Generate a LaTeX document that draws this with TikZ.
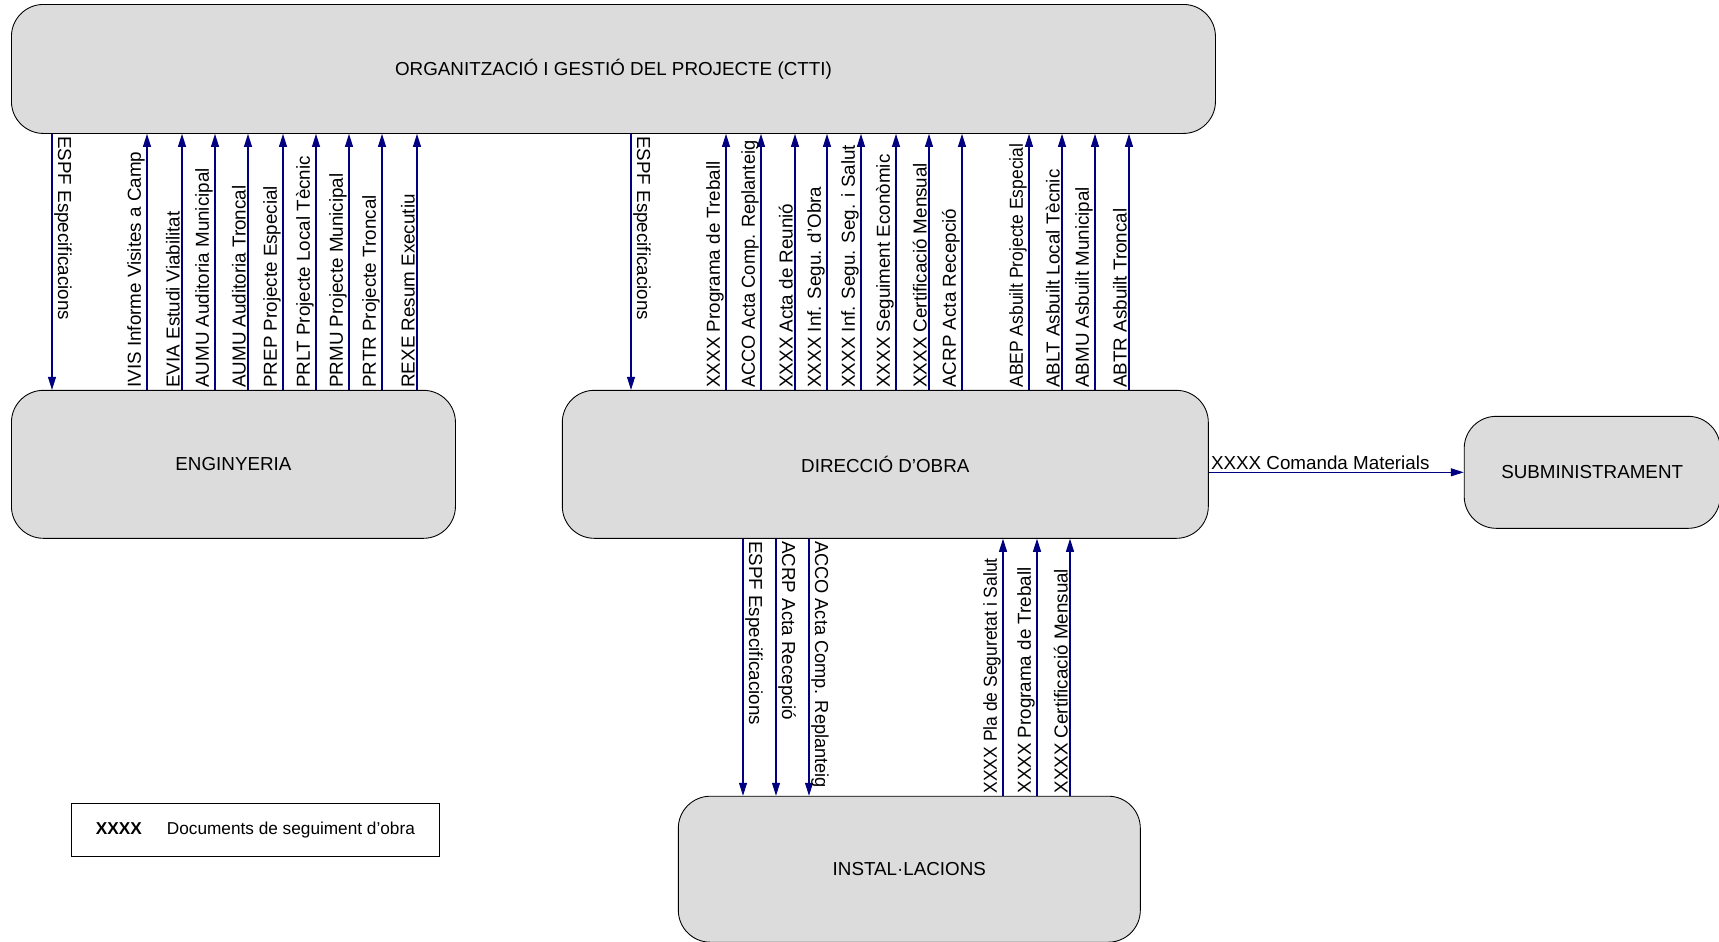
\documentclass[tikz,border=0pt]{standalone}
\usepackage{fontspec}
\setmainfont{Liberation Sans}
\usetikzlibrary{arrows.meta,positioning}
\definecolor{boxgray}{RGB}{220,220,220}
\definecolor{flowblue}{RGB}{0,0,128}
\tikzset{%
  >={Triangle[width=1.6mm,length=2.6mm]},
  % styles of the boxes
        base/.style = {rectangle, rounded corners=0.64cm, draw=black,
                       fill=boxgray, line width=0.5pt, text centered,
                       font=\fontsize{10.7}{13}\selectfont},
      office/.style = {base, minimum height=2.96cm},
      legend/.style = {rectangle, draw=black, line width=0.5pt,
                       minimum width=7.36cm, minimum height=1.06cm,
                       font=\fontsize{9.8}{12}\selectfont},
  % styles of the document flows and their labels
        flow/.style = {->, draw=flowblue, line width=0.6pt},
       updoc/.style = {pos=0, rotate=90, anchor=south west, inner sep=1pt,
                       font=\fontsize{10.7}{13}\selectfont},
     downdoc/.style = {pos=0, rotate=-90, anchor=south west, inner sep=1pt,
                       font=\fontsize{10.7}{13}\selectfont},
}
\begin{document}
\begin{tikzpicture}
  \useasboundingbox (0,0) rectangle (34.38,-18.82);

  % Boxes (position, size)
  \node (ctti) [base, minimum width=24.08cm, minimum height=2.58cm,
                anchor=north west] at (0.22,-0.08)
        {ORGANITZACIÓ I GESTIÓ DEL PROJECTE (CTTI)};
  \node (eng)  [office, minimum width=8.88cm,
                below=5.12cm of ctti.south west, anchor=north west] {ENGINYERIA};
  \node (dob)  [office, minimum width=12.92cm, right=2.12cm of eng] {DIRECCIÓ D’OBRA};
  \node (sub)  [base, minimum width=5.12cm, minimum height=2.24cm,
                right=5.10cm of dob, yshift=-0.16cm] {SUBMINISTRAMENT};
  \node (inst) [base, minimum width=9.24cm, minimum height=2.92cm,
                below=5.14cm of dob.south west, anchor=north west,
                xshift=2.32cm] {INSTAL·LACIONS};
  \node (key)  [legend, below=5.28cm of eng.south west, anchor=north west,
                xshift=1.2cm] {\textbf{XXXX}\hspace{0.5cm}Documents de seguiment d’obra};

  % Documents between ENGINYERIA and the top box
  \draw[flow] (ctti.south -| 1.04,0) -- node[downdoc] {ESPF Especificacions} (eng.north -| 1.04,0);
  \draw[flow] (eng.north -| 2.94,0) -- node[updoc] {IVIS Informe Visites a Camp} (ctti.south -| 2.94,0);
  \draw[flow] (eng.north -| 3.64,0) -- node[updoc] {EVIA Estudi Viabilitat} (ctti.south -| 3.64,0);
  \draw[flow] (eng.north -| 4.30,0) -- node[updoc] {AUMU Auditoria Municipal} (ctti.south -| 4.30,0);
  \draw[flow] (eng.north -| 4.96,0) -- node[updoc] {AUMU Auditoria Troncal} (ctti.south -| 4.96,0);
  \draw[flow] (eng.north -| 5.66,0) -- node[updoc] {PREP Projecte Especial} (ctti.south -| 5.66,0);
  \draw[flow] (eng.north -| 6.32,0) -- node[updoc] {PRLT Projecte Local Tècnic} (ctti.south -| 6.32,0);
  \draw[flow] (eng.north -| 6.98,0) -- node[updoc] {PRMU Projecte Municipal} (ctti.south -| 6.98,0);
  \draw[flow] (eng.north -| 7.64,0) -- node[updoc] {PRTR Projecte Troncal} (ctti.south -| 7.64,0);
  \draw[flow] (eng.north -| 8.34,0) -- node[updoc] {REXE Resum Executiu} (ctti.south -| 8.34,0);

  % Documents between DIRECCIÓ D'OBRA and the top box
  \draw[flow] (ctti.south -| 12.62,0) -- node[downdoc] {ESPF Especificacions} (dob.north -| 12.62,0);
  \draw[flow] (dob.north -| 14.52,0) -- node[updoc] {XXXX Programa de Treball} (ctti.south -| 14.52,0);
  \draw[flow] (dob.north -| 15.22,0) -- node[updoc] {\scalebox{0.97}[1]{ACCO Acta Comp. Replanteig}} (ctti.south -| 15.22,0);
  \draw[flow] (dob.north -| 15.90,0) -- node[updoc] {XXXX Acta de Reunió} (ctti.south -| 15.90,0);
  \draw[flow] (dob.north -| 16.54,0) -- node[updoc] {XXXX Inf. Segu. d'Obra} (ctti.south -| 16.54,0);
  \draw[flow] (dob.north -| 17.22,0) -- node[updoc] {XXXX Inf. Segu. Seg. i Salut} (ctti.south -| 17.22,0);
  \draw[flow] (dob.north -| 17.92,0) -- node[updoc] {XXXX Seguiment Econòmic} (ctti.south -| 17.92,0);
  \draw[flow] (dob.north -| 18.58,0) -- node[updoc] {XXXX Certificació Mensual} (ctti.south -| 18.58,0);
  \draw[flow] (dob.north -| 19.24,0) -- node[updoc] {ACRP Acta Recepció} (ctti.south -| 19.24,0);
  \draw[flow] (dob.north -| 20.58,0) -- node[updoc] {\scalebox{0.93}[1]{ABEP Asbuilt Projecte Especial}} (ctti.south -| 20.58,0);
  \draw[flow] (dob.north -| 21.24,0) -- node[updoc] {ABLT Asbuilt Local Tècnic} (ctti.south -| 21.24,0);
  \draw[flow] (dob.north -| 21.90,0) -- node[updoc] {ABMU Asbuilt Municipal} (ctti.south -| 21.90,0);
  \draw[flow] (dob.north -| 22.58,0) -- node[updoc] {ABTR Asbuilt Troncal} (ctti.south -| 22.58,0);

  % Documents between DIRECCIÓ D'OBRA and INSTAL·LACIONS
  \draw[flow] (dob.south -| 14.86,0) -- node[downdoc] {ESPF Especificacions} (inst.north -| 14.86,0);
  \draw[flow] (dob.south -| 15.52,0) -- node[downdoc] {ACRP Acta Recepció} (inst.north -| 15.52,0);
  \draw[flow] (dob.south -| 16.18,0) -- node[downdoc] {\scalebox{0.97}[1]{ACCO Acta Comp. Replanteig}} (inst.north -| 16.18,0);
  \draw[flow] (inst.north -| 20.06,0) -- node[updoc] {\scalebox{0.93}[1]{XXXX Pla de Seguretat i Salut}} (dob.south -| 20.06,0);
  \draw[flow] (inst.north -| 20.74,0) -- node[updoc] {XXXX Programa de Treball} (dob.south -| 20.74,0);
  \draw[flow] (inst.north -| 21.40,0) -- node[updoc] {XXXX Certificació Mensual} (dob.south -| 21.40,0);

  % Order to SUBMINISTRAMENT
  \draw[flow] (dob.east |- sub.west) -- node[pos=0, anchor=south west, inner sep=1pt,
        font=\fontsize{10.7}{13}\selectfont] {XXXX Comanda Materials} (sub.west);
\end{tikzpicture}
\end{document}
